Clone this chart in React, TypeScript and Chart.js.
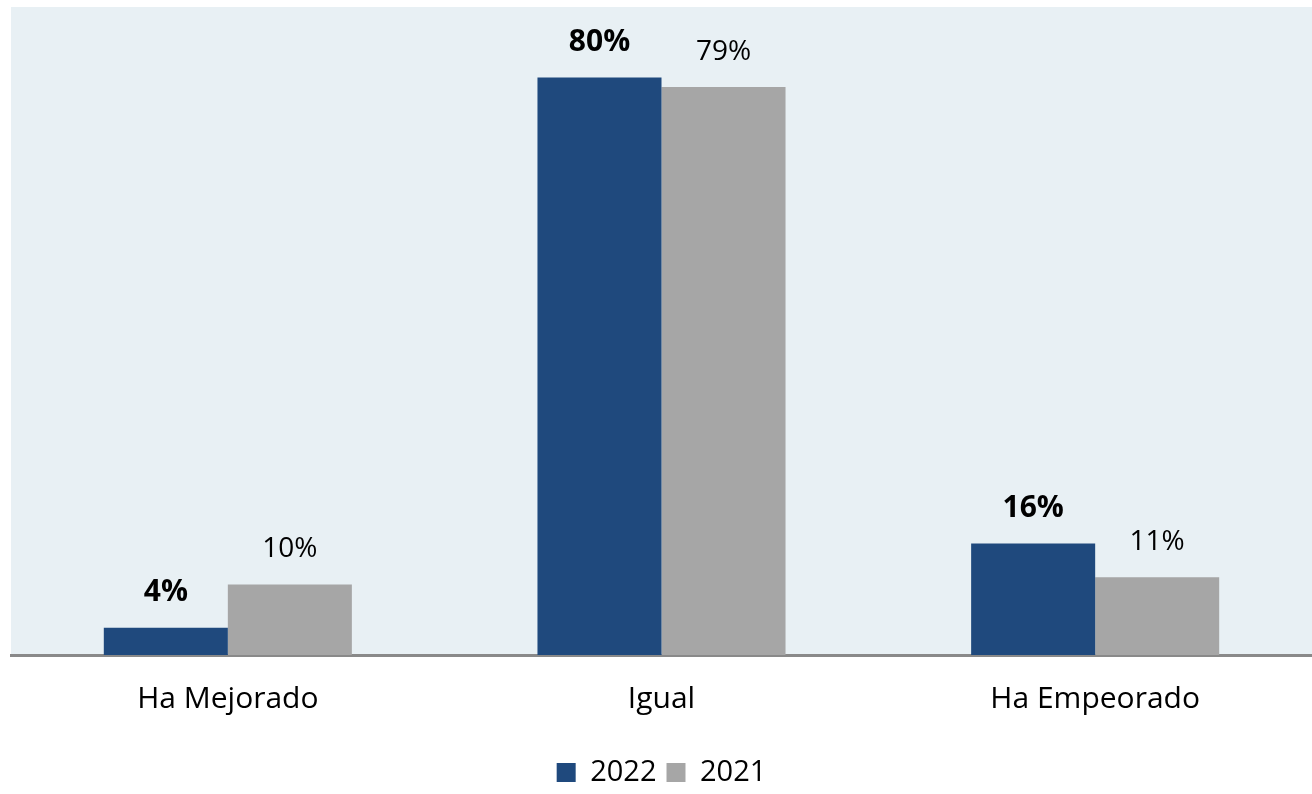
import React, { useEffect, useRef } from "react";
import { Chart, registerables } from "chart.js";

Chart.register(...registerables);

const categories = ["Ha Mejorado", "Igual", "Ha Empeorado"];
const series2022 = [3.8, 80.2, 15.5];
const series2021 = [9.8, 78.9, 10.8];
const labels2022 = ["4%", "80%", "16%"];
const labels2021 = ["10%", "79%", "11%"];
const seriesNames = ["2022", "2021"];

const FONT = "'Open Sans', sans-serif";

const bgPlugin = {
  id: "plotBg",
  beforeDraw(chart: any) {
    const { ctx, chartArea } = chart;
    if (!chartArea) return;
    ctx.save();
    ctx.fillStyle = "#E8F0F4";
    ctx.fillRect(chartArea.left, chartArea.top, chartArea.right - chartArea.left, chartArea.bottom - chartArea.top);
    ctx.restore();
  },
};

const labelPlugin = {
  id: "barLabels",
  afterDatasetsDraw(chart: any) {
    const { ctx } = chart;
    const texts = [labels2022, labels2021];
    chart.data.datasets.forEach((ds: any, di: number) => {
      const meta = chart.getDatasetMeta(di);
      meta.data.forEach((bar: any, i: number) => {
        ctx.save();
        ctx.font = di === 0 ? "bold 30px " + FONT : "28px " + FONT;
        ctx.fillStyle = "#000000";
        ctx.textAlign = "center";
        ctx.textBaseline = "middle";
        ctx.fillText(texts[di][i], bar.x, bar.y - 35);
        ctx.restore();
      });
    });
  },
};

export default function App() {
  const ref = useRef<HTMLCanvasElement | null>(null);
  useEffect(() => {
    if (!ref.current) return;
    const chart = new Chart(ref.current, {
      type: "bar",
      data: {
        labels: categories,
        datasets: [
          { label: seriesNames[0], data: series2022, backgroundColor: "#1F497D", barPercentage: 1, categoryPercentage: 0.572 },
          { label: seriesNames[1], data: series2021, backgroundColor: "#A6A6A6", barPercentage: 1, categoryPercentage: 0.572 },
        ],
      },
      options: {
        animation: false,
        responsive: false,
        maintainAspectRatio: false,
        layout: { padding: { top: 7, left: 11, right: 0, bottom: -3 } },
        plugins: {
          tooltip: { enabled: false },
          legend: {
            position: "bottom",
            labels: {
              font: { family: FONT, size: 29 },
              color: "#000000",
              boxWidth: 19,
              boxHeight: 19,
              padding: 10,
            },
          },
        },
        scales: {
          x: {
            grid: { display: false, drawTicks: false },
            border: { display: true, color: "#898989", width: 3 },
            ticks: { font: { family: FONT, size: 30 }, color: "#000000", padding: 26 },
            afterFit(scale: any) {
              scale.height = 93;
            },
          },
          y: {
            display: false,
            min: 0,
            max: 90,
          },
        },
      },
      plugins: [bgPlugin, labelPlugin],
    });
    return () => chart.destroy();
  }, []);
  return (
    <div style={{ position: "fixed", left: 0, top: 0, width: 1312, height: 794, background: "#ffffff" }}>
      <canvas ref={ref} width={1312} height={794} style={{ display: "block" }} />
    </div>
  );
}
